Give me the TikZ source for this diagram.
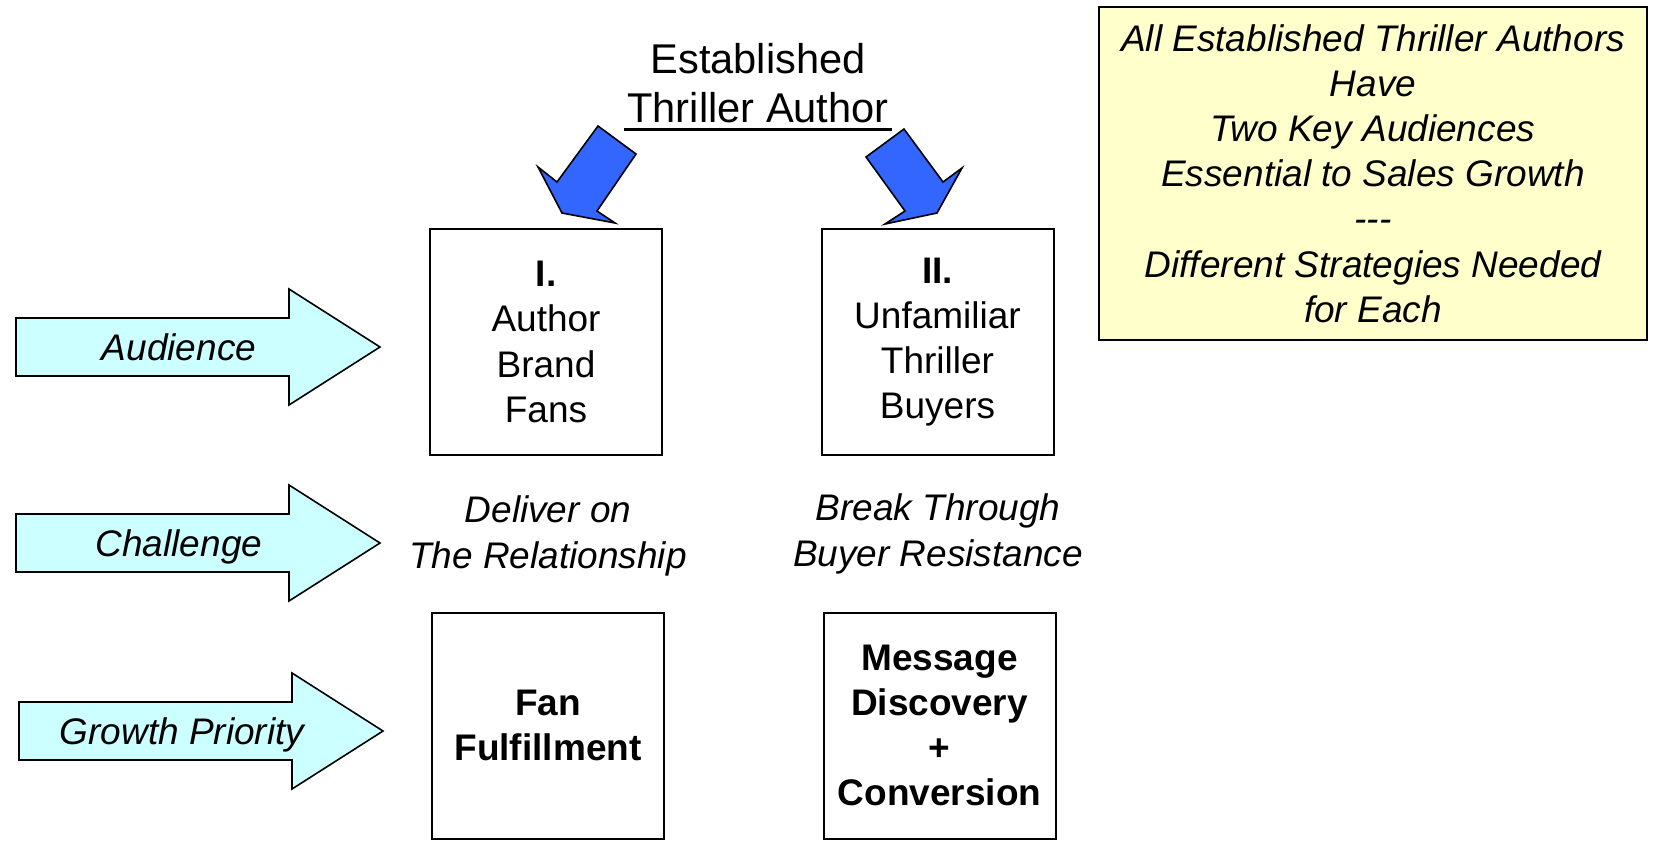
\documentclass[tikz,border=0pt]{standalone}
\usepackage{fontspec}
\setmainfont{Liberation Sans}
\newcommand\bodysize{\fontsize{18.5}{22.6}\selectfont}
\newcommand\titlesize{\fontsize{20.8}{25}\selectfont}
\definecolor{arrowblue}{HTML}{3366FF}
\definecolor{arrowcyan}{HTML}{CCFFFF}
\definecolor{noteyellow}{HTML}{FFFFCC}
\begin{document}
\begin{tikzpicture}[x=0.5pt,y=-0.5pt,
  audbox/.style={draw, line width=1pt, minimum width=116pt, minimum height=113pt,
    inner sep=0pt, align=center, font=\bodysize},
  notebox/.style={draw, fill=noteyellow, line width=1pt, minimum width=274pt,
    minimum height=166.5pt, inner sep=0pt, align=center, font=\bodysize\itshape},
  remark/.style={align=center, inner sep=0pt, font=\bodysize\itshape},
  titletext/.style={anchor=base, inner sep=0pt, font=\titlesize},
  bluearrow/.style={draw, fill=arrowblue, line width=0.8pt, line join=miter},
  cyanarrow/.style={draw, fill=arrowcyan, line width=0.8pt, line join=miter}]
\useasboundingbox (0,0) rectangle (1653,843);

% heading with underlined second line
\node[titletext] (est) at (758,73) {Established};
\node[titletext] (ta) at (758,122) {Thriller Author};
\draw[line width=1.5pt] (624,129) -- (892,129);

% blue block arrows pointing into the two audiences
\draw[bluearrow] (598,126) -- (636,154) -- (597,211) -- (615,223) -- (562,213)
  -- (538,167) -- (557,182) -- cycle;
\draw[bluearrow] (904,129) -- (866,157) -- (905,211) -- (885,224) -- (937,213)
  -- (962,168) -- (943,182) -- cycle;

% row labels on cyan block arrows
\foreach \dx/\dy/\txt/\nm in {0/0/Audience/audlabel, 0/196/Challenge/challabel,
    3/384/Growth Priority/growlabel}{
  \begin{scope}[shift={(\dx,\dy)}]
    \draw[cyanarrow] (16,318) -- (289,318) -- (289,289) -- (380,347) -- (289,405)
      -- (289,376) -- (16,376) -- cycle;
    \node[remark, anchor=base] (\nm) at (179,360) {\txt};
  \end{scope}
}

% audience boxes
\node[audbox] (fans) at (546,342) {{\bfseries I.}\\Author\\Brand\\Fans};
\node[audbox] (buyers) at (937.5,342) {{\bfseries II.}\\Unfamiliar\\Thriller\\Buyers};

% challenges
\node[remark] (deliver) at (548,536) {Deliver on\\The Relationship};
\node[remark] (breakthru) at (938,534) {Break Through\\Buyer Resistance};

% growth priorities
\node[audbox, font=\bodysize\bfseries] (fulfil) at (548,725.5) {Fan\\Fulfillment};
\node[audbox, font=\bodysize\bfseries] (convert) at (939.5,725.5)
  {Message\\Discovery\\+\\Conversion};

% summary note
\node[notebox] (note) at (1373,173.5) {All Established Thriller Authors\\Have\\Two Key Audiences\\Essential to Sales Growth\\-{}-{}-\\Different Strategies Needed\\for Each};
\end{tikzpicture}
\end{document}
